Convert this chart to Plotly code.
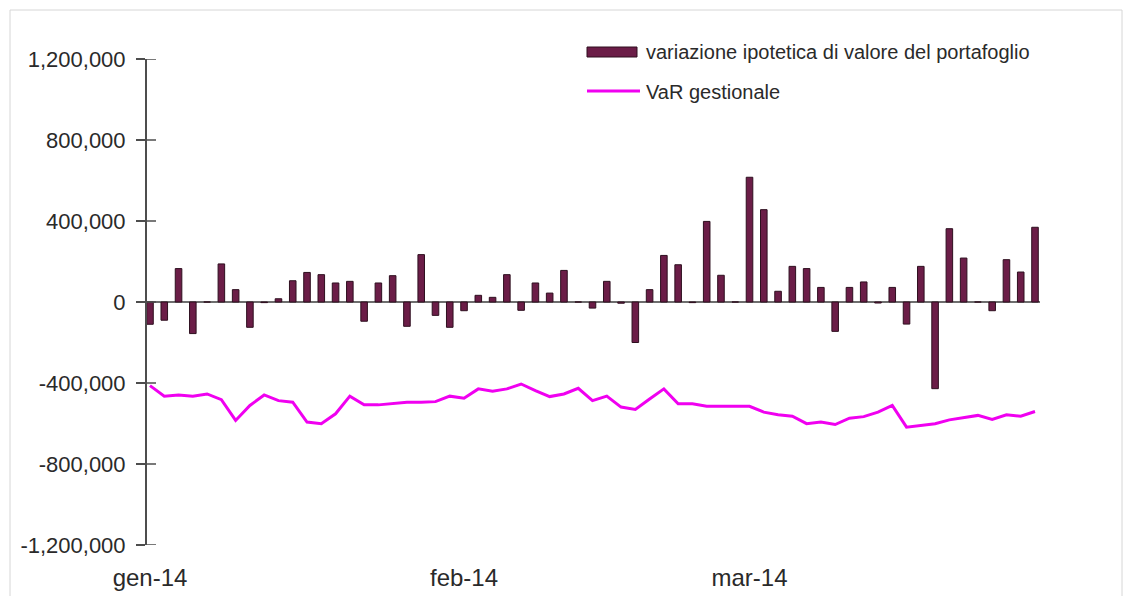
import pandas as pd
import plotly.graph_objects as go

# Trading days Q1 2014 (Jan 1 closed)
days = [d.strftime("%Y-%m-%d") for d in pd.bdate_range("2014-01-02", "2014-03-31")]

# Daily hypothetical change in portfolio value (EUR)
pnl = [
    -110000, -90000, 165000, -156000, 0, 188000, 61000, -125000, -3000, 16000,
    105000, 146000, 135000, 94000, 102000, -95000, 94000, 130000, -120000, 234000,
    -66000, -125000, -43000, 33000, 23000, 135000, -41000, 94000, 44000, 156000,
    0, -30000, 102000, -6000, -200000, 61000, 230000, 184000, -3000, 398000,
    132000, 0, 616000, 456000, 53000, 176000, 165000, 72000, -145000, 72000,
    99000, -5000, 72000, -109000, 176000, -428000, 362000, 217000, 0, -43000,
    209000, 148000, 369000,
]

# Management VaR (EUR)
var_gest = [
    -413000, -465000, -459000, -465000, -454000, -482000, -585000, -511000, -459000, -487000,
    -495000, -593000, -601000, -552000, -465000, -508000, -508000, -500000, -495000, -495000,
    -492000, -465000, -475000, -429000, -441000, -429000, -405000, -438000, -467000, -454000,
    -426000, -487000, -465000, -519000, -531000, -479000, -429000, -503000, -503000, -515000,
    -515000, -515000, -515000, -544000, -557000, -564000, -601000, -593000, -605000, -574000,
    -566000, -544000, -511000, -618000, -610000, -601000, -582000, -570000, -560000, -580000,
    -557000, -564000, -541000,
]

month_ticks = ["2014-01-02", "2014-02-03", "2014-03-03"]
month_labels = ["gen-14", "feb-14", "mar-14"]

y_ticks = [-1200000, -800000, -400000, 0, 400000, 800000, 1200000]
y_labels = ["-1,200,000", "-800,000", "-400,000", "0", "400,000", "800,000", "1,200,000"]

series_names = ["variazione ipotetica di valore del portafoglio", "VaR gestionale"]

BAR_COLOR = "#6b1d47"
LINE_COLOR = "#f000f0"
TEXT_COLOR = "#2a2a2a"
FONT = "Liberation Sans, Arial, sans-serif"

W, H = 1132, 596
L, R, T, B = 147, 92, 59, 51
PW, PH = W - L - R, H - T - B


def px_x(p):
    return (p - L) / PW


def px_y(p):
    return (H - B - p) / PH


fig = go.Figure()
fig.add_trace(go.Bar(
    x=days, y=pnl, name=series_names[0], width=0.46,
    marker=dict(color=BAR_COLOR, line=dict(color="#2e0f1f", width=1)),
    showlegend=False,
))
fig.add_trace(go.Scatter(
    x=days, y=var_gest, name=series_names[1], mode="lines",
    line=dict(color=LINE_COLOR, width=3),
    showlegend=False,
))

shapes = []
# inner half of the crossing tick marks on the value axis
for v in y_ticks:
    shapes.append(dict(type="line", xref="paper", yref="y", xsizemode="pixel",
                       xanchor=0, x0=0, x1=9, y0=v, y1=v,
                       line=dict(color="#4d4d4d", width=1.5)))
# chart frame (open at the bottom edge of the page)
shapes.append(dict(type="rect", xref="paper", yref="paper",
                   x0=px_x(10), x1=px_x(1122), y0=px_y(620), y1=px_y(10),
                   line=dict(color="#d6d6d6", width=1), layer="below"))
# legend swatches
shapes.append(dict(type="rect", xref="paper", yref="paper",
                   x0=px_x(587), x1=px_x(637), y0=px_y(57), y1=px_y(47),
                   fillcolor=BAR_COLOR, line=dict(color="#2e0f1f", width=1)))
shapes.append(dict(type="line", xref="paper", yref="paper",
                   x0=px_x(587), x1=px_x(640), y0=px_y(91), y1=px_y(91),
                   line=dict(color=LINE_COLOR, width=3)))

annotations = [
    dict(xref="paper", yref="paper", x=px_x(644), y=px_y(52), text=series_names[0],
         showarrow=False, xanchor="left", yanchor="middle",
         font=dict(family=FONT, size=20, color=TEXT_COLOR)),
    dict(xref="paper", yref="paper", x=px_x(644), y=px_y(92), text=series_names[1],
         showarrow=False, xanchor="left", yanchor="middle",
         font=dict(family=FONT, size=20, color=TEXT_COLOR)),
]

fig.update_layout(
    width=W, height=H,
    margin=dict(l=L, r=R, t=T, b=B),
    paper_bgcolor="white", plot_bgcolor="white",
    font=dict(family=FONT, color=TEXT_COLOR),
    shapes=shapes,
    annotations=annotations,
    xaxis=dict(
        type="category", range=[-0.21, 62.35], automargin=False,
        tickvals=month_ticks, ticktext=month_labels,
        showgrid=False, showline=False, ticks="",
        tickfont=dict(family=FONT, size=24, color=TEXT_COLOR),
        ticklabelstandoff=16,
    ),
    yaxis=dict(
        range=[-1200000, 1200000], automargin=False,
        tickvals=y_ticks, ticktext=y_labels,
        showgrid=False, showline=True, linecolor="#4d4d4d", linewidth=2,
        ticks="outside", ticklen=9, tickcolor="#4d4d4d", tickwidth=1.5,
        zeroline=True, zerolinecolor="#6e6e6e", zerolinewidth=1.5,
        tickfont=dict(family=FONT, size=22, color=TEXT_COLOR),
        ticklabelstandoff=6,
    ),
)

fig.write_html("out.html")
